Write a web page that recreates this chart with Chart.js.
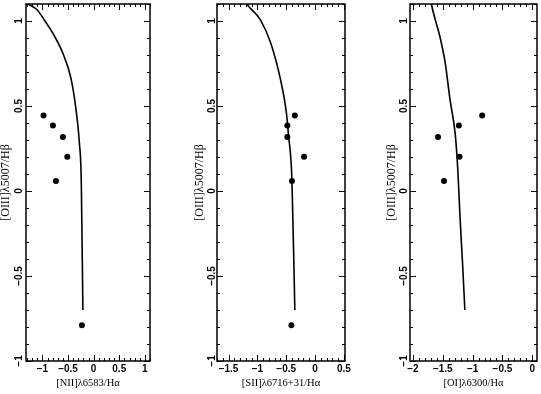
<!DOCTYPE html>
<html>
<head>
<meta charset="utf-8">
<script src="https://cdn.jsdelivr.net/npm/chart.js@4"></script>
<style>
  body { margin: 0; background: #fff; width: 541px; height: 394px; overflow: hidden; }
  canvas { position: absolute; top: 0; }
</style>
</head>
<body>
<canvas id="c1" width="160" height="394" style="left:0px"></canvas>
<canvas id="c2" width="160" height="394" style="left:194px"></canvas>
<canvas id="c3" width="155" height="394" style="left:386px"></canvas>
<script>
// observed line ratios (same objects in every panel)
const obsY = [0.444, 0.386, 0.318, 0.201, 0.059, -0.79];
const niiObs = [-0.977, -0.795, -0.60, -0.514, -0.736, -0.229];
const siiObs = [-0.35, -0.48, -0.48, -0.19, -0.40, -0.41];
const oiObs = [-0.84, -1.23, -1.58, -1.22, -1.48, null];

// separation curves
const niiCurveX = [-1.28, -1.1, -0.95, -0.80, -0.60, -0.44, -0.34, -0.28, -0.24, -0.21];
const niiCurveY = [1.1, 1.065, 1.0, 0.93, 0.81, 0.66, 0.47, 0.29, 0.04, -0.70];
const siiCurveX = [-1.18, -1.15, -0.95, -0.77, -0.60, -0.50, -0.46, -0.40, -0.35];
const siiCurveY = [1.1, 1.086, 1.008, 0.872, 0.658, 0.47, 0.33, 0.06, -0.70];
const oiCurveX = [-1.69, -1.67, -1.55, -1.46, -1.38, -1.29, -1.25, -1.21, -1.165, -1.13];
const oiCurveY = [1.1, 1.066, 0.91, 0.755, 0.54, 0.33, 0.135, -0.16, -0.45, -0.70];

// ticks
const yTickValues = [-1, -0.5, 0, 0.5, 1];
const yTickLabels = ['\u22121', '\u22120.5', '0', '0.5', '1'];
const niiTickValues = [-1, -0.5, 0, 0.5, 1];
const niiTickLabels = ['\u22121', '\u22120.5', '0', '0.5', '1'];
const siiTickValues = [-1.5, -1, -0.5, 0, 0.5];
const siiTickLabels = ['\u22121.5', '\u22121', '\u22120.5', '0', '0.5'];
const oiTickValues = [-2, -1.5, -1, -0.5, 0];
const oiTickLabels = ['\u22122', '\u22121.5', '\u22121', '\u22120.5', '0'];

const yTitle = '[OIII]\u03bb5007/H\u03b2';

// inward major/minor ticks on all four sides plus the box
const frameTicks = {
  id: 'frameTicks',
  afterDraw(chart) {
    const { ctx, chartArea: a, scales: { x, y } } = chart;
    ctx.save();
    ctx.strokeStyle = '#000';
    ctx.lineWidth = 1;
    ctx.beginPath();
    for (let k = Math.ceil(x.min * 10 - 1e-6); k <= Math.floor(x.max * 10 + 1e-6); k++) {
      const px = Math.round(x.getPixelForValue(k / 10)) + 0.5;
      const len = k % 5 === 0 ? 6 : 3;
      ctx.moveTo(px, a.bottom); ctx.lineTo(px, a.bottom - len);
      ctx.moveTo(px, a.top); ctx.lineTo(px, a.top + len);
    }
    for (let k = Math.ceil(y.min * 10 - 1e-6); k <= Math.floor(y.max * 10 + 1e-6); k++) {
      const py = Math.round(y.getPixelForValue(k / 10)) + 0.5;
      const len = k % 5 === 0 ? 6 : 3;
      ctx.moveTo(a.left, py); ctx.lineTo(a.left + len, py);
      ctx.moveTo(a.right, py); ctx.lineTo(a.right - len, py);
    }
    ctx.stroke();
    ctx.lineWidth = 1.5;
    ctx.strokeRect(a.left, a.top, a.right - a.left, a.bottom - a.top);
    ctx.restore();
  }
};

function makePanel(id, xTitle, xMin, xMax, xVals, xLabels, curveX, curveY, obsX, yWidth, padRight, yPad) {
  const curve = curveX.map((v, i) => ({ x: v, y: curveY[i] }));
  const pts = obsX.map((v, i) => ({ x: v, y: obsY[i] })).filter(p => p.x !== null);
  return new Chart(document.getElementById(id), {
    type: 'scatter',
    data: {
      datasets: [
        {
          data: curve,
          showLine: true,
          borderColor: '#000',
          borderWidth: 1.6,
          pointRadius: 0,
          cubicInterpolationMode: 'monotone',
        },
        {
          data: pts,
          backgroundColor: '#000',
          borderColor: '#000',
          pointRadius: 3,
          borderWidth: 0,
        },
      ],
    },
    options: {
      responsive: false,
      animation: false,
      layout: { padding: { top: 1, right: padRight, bottom: 0, left: 0 } },
      plugins: { legend: { display: false }, tooltip: { enabled: false } },
      scales: {
        x: {
          type: 'linear',
          min: xMin,
          max: xMax,
          grid: { display: false, drawTicks: false },
          border: { display: false },
          afterBuildTicks: s => { s.ticks = xVals.map(v => ({ value: v })); },
          afterFit: s => { s.height = 33; s.paddingLeft = 0; s.paddingRight = 0; },
          ticks: {
            autoSkip: false,
            maxRotation: 0,
            padding: 2,
            color: '#000',
            font: { family: 'Liberation Sans', weight: 'bold', size: 10 },
            callback: v => xLabels[xVals.indexOf(v)],
          },
          title: {
            display: true,
            text: xTitle,
            color: '#000',
            font: { family: 'Liberation Serif', size: 10.5 },
            padding: { top: 0, bottom: 4 },
          },
        },
        y: {
          type: 'linear',
          min: -1,
          max: 1.1,
          grid: { display: false, drawTicks: false },
          border: { display: false },
          afterBuildTicks: s => { s.ticks = yTickValues.map(v => ({ value: v })); },
          afterFit: s => { s.width = yWidth; s.paddingTop = 0; s.paddingBottom = 0; },
          ticks: {
            autoSkip: false,
            minRotation: 90,
            maxRotation: 90,
            crossAlign: 'center',
            padding: yPad,
            color: '#000',
            font: { family: 'Liberation Sans', weight: 'bold', size: 10 },
            callback: v => yTickLabels[yTickValues.indexOf(v)],
          },
          title: {
            display: true,
            text: yTitle,
            color: '#000',
            font: { family: 'Liberation Serif', size: 12 },
            padding: { top: -1, bottom: 0 },
          },
        },
      },
    },
    plugins: [frameTicks],
  });
}

makePanel('c1', '[NII]\u03bb6583/H\u03b1', -1.32, 1.1, niiTickValues, niiTickLabels,
  niiCurveX, niiCurveY, niiObs, 26, 10, -3);
makePanel('c2', '[SII]\u03bb6716+31/H\u03b1', -1.7, 0.52, siiTickValues, siiTickLabels,
  siiCurveX, siiCurveY, siiObs, 23, 9, -5);
makePanel('c3', '[OI]\u03bb6300/H\u03b1', -2.05, 0.08, oiTickValues, oiTickLabels,
  oiCurveX, oiCurveY, oiObs, 24, 4, -4);
</script>
</body>
</html>
